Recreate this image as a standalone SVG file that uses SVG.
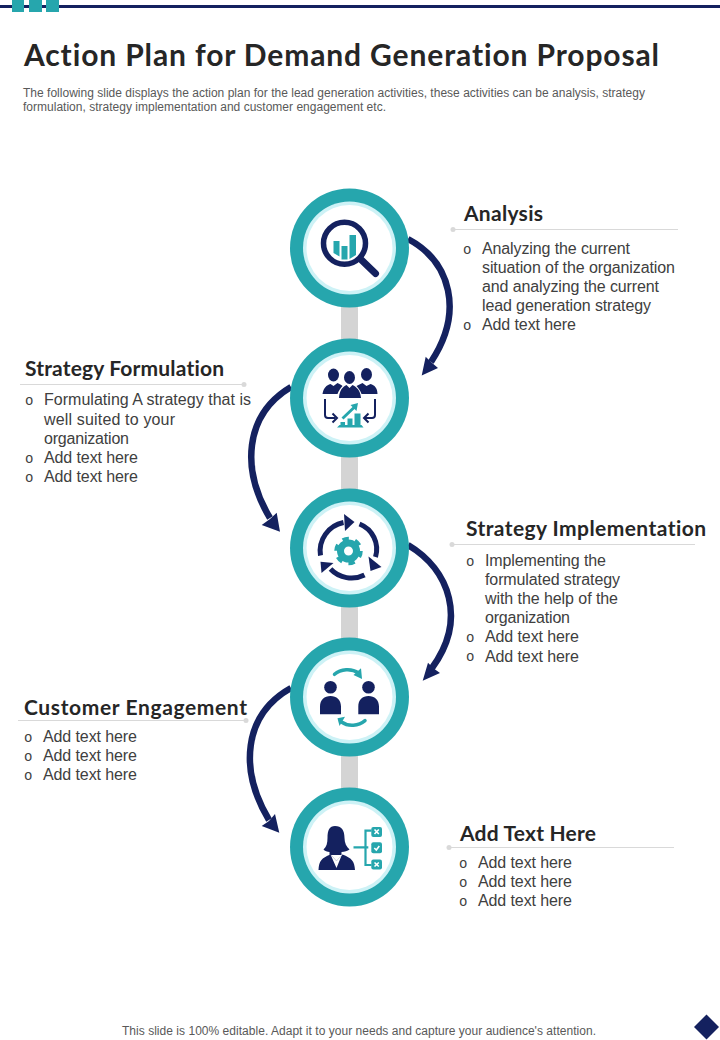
<svg xmlns="http://www.w3.org/2000/svg" width="720" height="1040" viewBox="0 0 720 1040">
<style>
text{font-family:"Liberation Sans",Arial,sans-serif;font-variant-ligatures:none}
.ti{font-family:Lato,"Liberation Sans",sans-serif;font-weight:700;font-size:30px;fill:#262626}
.sub{font-size:12px;fill:#595959}
.h{font-family:Lato,"Liberation Sans",sans-serif;font-weight:700;font-size:21px;fill:#262626}
.b{font-size:16px;fill:#404040}
.o{font-family:"Liberation Mono","Courier New",monospace;font-size:14px;fill:#404040}
.foot{font-size:12px;fill:#595959}
.rule{stroke:#d9d9d9;stroke-width:1;fill:none}
.dot{fill:#d9d9d9}
.ring{fill:#26a6ad}
.halo{fill:#cdf2f6}
.in{fill:#fff}
.n{fill:#14215f}
.t{fill:#26a6ad}
.ns{fill:none;stroke:#14215f;stroke-width:2}
.ts{fill:none;stroke:#26a6ad;stroke-width:2.200}
.arc{fill:none;stroke:#14215f;stroke-width:6.500}
.cyc{fill:none;stroke:#14215f;stroke-width:5}
.sw{fill:none;stroke:#26a6ad;stroke-width:3.500;stroke-linecap:round}
</style>
<defs>
<g id="disc"><circle r="59.5" class="ring"/><circle r="46.5" class="halo"/><circle r="43" class="in"/></g>
</defs>

<g id="topbar">
<rect x="0" y="5" width="720" height="3" fill="#14215f"/>
<rect x="12" y="0" width="12" height="12" class="t"/>
<rect x="29" y="0" width="13" height="12" class="t"/>
<rect x="46" y="0" width="13" height="12" class="t"/>
</g>

<g id="header">
<text class="ti" x="24" y="66" textLength="635" lengthAdjust="spacing">Action Plan for Demand Generation Proposal</text>
<text class="sub" x="23" y="97" textLength="622" lengthAdjust="spacing">The following slide displays the action plan for the lead generation activities, these activities can be analysis, strategy</text>
<text class="sub" x="23" y="111" textLength="363" lengthAdjust="spacing">formulation, strategy implementation and customer engagement etc.</text>
</g>

<g id="spine"><rect x="341" y="300" width="17" height="500" fill="#d4d4d4"/></g>

<g id="connectors">
<path class="arc" d="M408 239C451 262 464 312 431 362"/>
<path class="n" d="M421.700 375.500L438 368 431 362 425.700 356.700Z"/>
<path class="arc" d="M291 387C244 415 241 470 270 518"/>
<path class="n" d="M280 531.700L261.700 525 270 519 276.700 512.700Z"/>
<path class="arc" d="M408 545C450 570 467 620 432 668"/>
<path class="n" d="M422.700 680.700L440 673 433 668 428 662.700Z"/>
<path class="arc" d="M291 688C243 715 239 770 269 820"/>
<path class="n" d="M279.300 832.700L261.700 826 269 821 275 814Z"/>
</g>

<g id="node-analysis" transform="translate(349.500 248)">
<use href="#disc"/>
<circle cx="-5" cy="-4.700" r="21" fill="#fff" stroke="#14215f" stroke-width="5.500"/>
<path d="M12 12L26 25.500" stroke="#14215f" stroke-width="7" stroke-linecap="round"/>
<path class="t" d="M-16 -7H-10V8.500L-16 5ZM-8 -2H-2V11.500H-8ZM0 -13H6.500V7L0 11Z"/>
</g>

<g id="node-formulation" transform="translate(349.500 398)">
<use href="#disc"/>
<ellipse cx="-16" cy="-23" rx="5.500" ry="6.500" class="n"/><ellipse cx="0" cy="-20.500" rx="5.500" ry="6.500" class="n"/><ellipse cx="17" cy="-23.500" rx="5.500" ry="6.500" class="n"/>
<path class="n" d="M-27 -4C-26 -10 -23 -13 -19 -14L-16 -12-12 -15C-10 -14 -8 -13 -7 -12C-9 -10 -11 -7 -12 -4ZM12 -4C11 -7 9 -10 7 -12C9 -13 11 -14 13 -15L17 -12 21 -14C25 -13 28 -10 28 -4Z"/>
<path class="n" d="M-10.500 0C-10 -8 -7 -11 -3 -13L0 -10 3 -13C7 -11 11 -8 11.500 0Z"/>
<path class="ns" d="M-24.500 1V17C-24.500 19 -23.500 20 -21.500 20H-14"/><path class="ns" d="M-17 15.500L-12.500 20-17 24.500"/>
<path class="ns" d="M25.500 1V17C25.500 19 24.500 20 22.500 20H15"/><path class="ns" d="M19 15.500L14.500 20 19 24.500"/>
<path class="t" d="M-12.500 29.500L-10 27H-9V24H-4.500V27H-2V20.500H3V27H5V15.500H11V27H12L14 29.500Z"/>
<path class="t" d="M-8 19.500L3 9 1 7 8.500 5 7 13 5 11-6 21.500Z"/>
</g>

<g id="node-implementation" transform="translate(349.500 548)">
<use href="#disc"/>
<path class="cyc" d="M-29 7.500A29 29 0 0 1 -6 -25.500"/>
<path class="n" d="M-5.500 -34L5 -26 -4.500 -17Z"/>
<path class="cyc" d="M10 -24A27 27 0 0 1 26 9"/>
<path class="n" d="M19 8.500L32 19 21 23Z"/>
<path class="cyc" d="M15 27A29 29 0 0 1 -19 21"/>
<path class="n" d="M-29 13.700L-16 15-28 25Z"/>
<circle cx="-1" cy="3" r="8" fill="none" stroke="#26a6ad" stroke-width="7"/>
<circle cx="-1" cy="3" r="12.500" fill="none" stroke="#26a6ad" stroke-width="3.500" stroke-dasharray="6.500 6.590"/>
</g>

<g id="node-engagement" transform="translate(349.500 697)">
<use href="#disc"/>
<circle cx="-19" cy="-9.700" r="6.300" class="n"/><circle cx="19" cy="-9.700" r="6.300" class="n"/>
<path class="n" d="M-29.500 17.300V9.500C-29.500 3 -25 -1 -19 -1C-13 -1 -8.500 3 -8.500 9.500V17.300ZM8.800 17.300V9.500C8.800 3 13 -1 19 -1C25 -1 29.500 3 29.500 9.500V17.300Z"/>
<path class="sw" d="M-15 -22.700C-9 -28 2 -29 9 -24"/>
<path class="t" d="M4 -22L11.500 -28.700 12.500 -18Z"/>
<path class="sw" d="M15.500 23.700C9 29 -1 30 -8 25"/>
<path class="t" d="M-12 21.300L-4.500 19.700-10 29Z"/>
</g>

<g id="node-addtext" transform="translate(349.500 847)">
<use href="#disc"/>
<path class="n" d="M-14.500 -21C-8 -21 -5 -17 -5 -9C-5 -4 -3 0 0 2.500C-2 4 -5 5 -8 5V8H-20V5C-22 5 -25 4 -26 2.500C-23 0 -22 -4 -22 -9C-22 -17 -20 -21 -14.500 -21Z"/>
<path class="n" d="M-31 23C-30.500 14 -28 11 -19 7.500L-13 14-7 7.500C2 11 5 14 5.500 23Z"/>
<path d="M-19 7.500L-13 21-7.500 7.500-13 14Z" fill="#fff"/>
<path class="ts" d="M4 0.300H18.800M22 -16.300H16V18H22"/>
<rect x="21.800" y="-20" width="10.700" height="10" rx="2" class="t"/>
<rect x="21.800" y="-4.700" width="10.700" height="11" rx="2" class="t"/>
<rect x="21.800" y="12.500" width="10.700" height="10" rx="2" class="t"/>
<path d="M25 -17.500L29.300 -13M29.300 -17.500L25 -13M24.800 1L26.800 3 29.800 -1M25 15.500L29.300 19.500M29.300 15.500L25 19.500" fill="none" stroke="#fff" stroke-width="1.600"/>
</g>

<g id="text-analysis">
<text class="h" x="464" y="221" textLength="79" lengthAdjust="spacing">Analysis</text>
<path class="rule" d="M453 229.500H678"/><circle cx="453" cy="229.500" r="2.500" class="dot"/>
<text class="o" x="463" y="254">o</text>
<text class="b" x="482" y="254" textLength="148" lengthAdjust="spacing">Analyzing the current</text>
<text class="b" x="482" y="273" textLength="193" lengthAdjust="spacing">situation of the organization</text>
<text class="b" x="482" y="292" textLength="177" lengthAdjust="spacing">and analyzing the current</text>
<text class="b" x="482" y="311" textLength="169" lengthAdjust="spacing">lead generation strategy</text>
<text class="o" x="463" y="330">o</text>
<text class="b" x="482" y="330" textLength="94" lengthAdjust="spacing">Add text here</text>
</g>

<g id="text-formulation">
<text class="h" x="25" y="376" textLength="199" lengthAdjust="spacing">Strategy Formulation</text>
<path class="rule" d="M20 384.500H244"/><circle cx="244" cy="384.500" r="2.500" class="dot"/>
<text class="o" x="25" y="405">o</text>
<text class="b" x="44" y="405" textLength="207" lengthAdjust="spacing">Formulating A strategy that is</text>
<text class="b" x="44" y="425" textLength="131" lengthAdjust="spacing">well suited to  your</text>
<text class="b" x="44" y="444" textLength="85" lengthAdjust="spacing">organization</text>
<text class="o" x="25" y="463">o</text>
<text class="b" x="44" y="463" textLength="94" lengthAdjust="spacing">Add text here</text>
<text class="o" x="25" y="482">o</text>
<text class="b" x="44" y="482" textLength="94" lengthAdjust="spacing">Add text here</text>
</g>

<g id="text-implementation">
<text class="h" x="466" y="536" textLength="240" lengthAdjust="spacing">Strategy Implementation</text>
<path class="rule" d="M452 544.500H695"/><circle cx="452" cy="544.500" r="2.500" class="dot"/>
<text class="o" x="466" y="566">o</text>
<text class="b" x="485" y="566" textLength="121" lengthAdjust="spacing">Implementing the</text>
<text class="b" x="485" y="585" textLength="135" lengthAdjust="spacing">formulated strategy</text>
<text class="b" x="485" y="604" textLength="133" lengthAdjust="spacing">with the help of the</text>
<text class="b" x="485" y="623" textLength="85" lengthAdjust="spacing">organization</text>
<text class="o" x="466" y="642">o</text>
<text class="b" x="485" y="642" textLength="94" lengthAdjust="spacing">Add text here</text>
<text class="o" x="466" y="661">o</text>
<text class="b" x="485" y="662" textLength="94" lengthAdjust="spacing">Add text here</text>
</g>

<g id="text-engagement">
<text class="h" x="24" y="715" textLength="223" lengthAdjust="spacing">Customer Engagement</text>
<path class="rule" d="M18 720.500H246"/><circle cx="246" cy="720.500" r="2.500" class="dot"/>
<text class="o" x="24" y="742">o</text>
<text class="b" x="43" y="742" textLength="94" lengthAdjust="spacing">Add text here</text>
<text class="o" x="24" y="761">o</text>
<text class="b" x="43" y="761" textLength="94" lengthAdjust="spacing">Add text here</text>
<text class="o" x="24" y="780">o</text>
<text class="b" x="43" y="780" textLength="94" lengthAdjust="spacing">Add text here</text>
</g>

<g id="text-addtext">
<text class="h" x="460" y="841" textLength="136" lengthAdjust="spacing">Add Text Here</text>
<path class="rule" d="M449 847.500H674"/><circle cx="449" cy="847.500" r="2.500" class="dot"/>
<text class="o" x="459" y="868">o</text>
<text class="b" x="478" y="868" textLength="94" lengthAdjust="spacing">Add text here</text>
<text class="o" x="459" y="887">o</text>
<text class="b" x="478" y="887" textLength="94" lengthAdjust="spacing">Add text here</text>
<text class="o" x="459" y="906">o</text>
<text class="b" x="478" y="906" textLength="94" lengthAdjust="spacing">Add text here</text>
</g>

<g id="footer">
<text class="foot" x="122" y="1035" textLength="474" lengthAdjust="spacing">This slide is 100% editable. Adapt it to your needs and capture your audience's attention.</text>
<path class="n" d="M706.500 1014.500L719 1027 706.500 1039.500 694 1027Z"/>
</g>
</svg>
